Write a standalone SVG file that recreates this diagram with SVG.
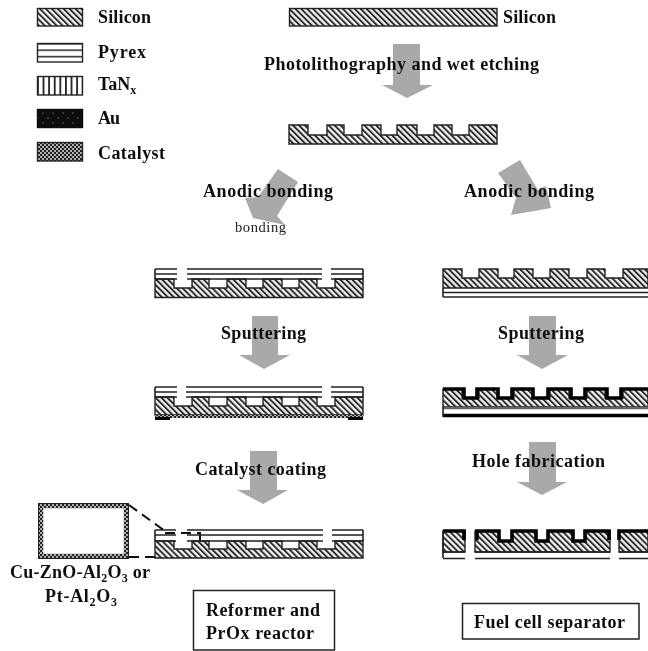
<svg xmlns="http://www.w3.org/2000/svg" width="648" height="651" viewBox="0 0 648 651">
<style>
.t{font-family:"Liberation Serif","Times New Roman",serif;font-weight:700;font-size:18px;fill:#111}
.r{font-family:"Liberation Serif","Times New Roman",serif;font-size:14.500px;fill:#222}
.s{font-size:12px}
.si{fill:url(#si);stroke:#222;stroke-width:1.4}
.ar{fill:#a9a9a9}
.ln{stroke:#222;stroke-width:1.6;fill:none}
.box{fill:#fff;stroke:#222;stroke-width:1.5}
.au{stroke:#000;stroke-width:3.6;fill:none}
.dash{stroke:#111;stroke-width:2;fill:none;stroke-dasharray:10 6}
</style>
<defs>
<pattern id="si" width="4.200" height="4.200" patternUnits="userSpaceOnUse" patternTransform="rotate(-45)">
<rect width="4.200" height="4.200" fill="#f2f2f2"/><rect width="1.900" height="4.200" fill="#2a2a2a"/>
</pattern>
<pattern id="py" width="10" height="6.400" patternUnits="userSpaceOnUse" y="43">
<rect width="10" height="6.400" fill="#fff"/><rect width="10" height="1.600" fill="#333"/>
</pattern>
<pattern id="ta" width="5.600" height="10" patternUnits="userSpaceOnUse" x="37">
<rect width="5.600" height="10" fill="#fff"/><rect width="1.800" height="10" fill="#222"/>
</pattern>
<pattern id="au" width="10" height="10" patternUnits="userSpaceOnUse">
<rect width="10" height="10" fill="#0a0a0a"/><circle cx="3" cy="3" r=".7" fill="#777"/><circle cx="8" cy="8" r=".7" fill="#777"/>
</pattern>
<pattern id="ca" width="4" height="4" patternUnits="userSpaceOnUse">
<rect width="4" height="4" fill="#222"/><circle cx="1" cy="1" r="1" fill="#ddd"/><circle cx="3" cy="3" r="1" fill="#ddd"/>
</pattern>
<filter id="b" x="-5%" y="-5%" width="110%" height="110%"><feGaussianBlur stdDeviation="0.45"/></filter>
</defs>
<g filter="url(#b)">
<g id="legend">
<g id="legend-silicon"><rect x="37.500" y="8.500" width="45" height="17.500" class="si"/><text class="t" x="98" y="23" textLength="53">Silicon</text></g>
<g id="legend-pyrex"><rect x="37.500" y="43.500" width="45" height="18.500" fill="url(#py)" stroke="#222" stroke-width="1.400"/><text class="t" x="98" y="58" textLength="48">Pyrex</text></g>
<g id="legend-tan"><rect x="37.500" y="76.500" width="45" height="18.500" fill="url(#ta)" stroke="#222" stroke-width="1.400"/><text class="t" x="98" y="90">TaN<tspan class="s" dy="4">x</tspan></text></g>
<g id="legend-au"><rect x="37.500" y="109.500" width="45" height="18" fill="url(#au)" stroke="#111" stroke-width="1.400"/><text class="t" x="98" y="124" textLength="22">Au</text></g>
<g id="legend-catalyst"><rect x="37.500" y="142.500" width="45" height="18.500" fill="url(#ca)" stroke="#222" stroke-width="1.400"/><text class="t" x="98" y="159" textLength="67">Catalyst</text></g>
</g>
<g id="connectors">
<path class="ar" d="M393 44H420V85H433L407 98L382 85H393Z"/>
<path class="ar" d="M278 169L298 182L277 216L285 225L253 218L245 198L258 197Z"/>
<path class="ar" d="M520 160L498 173L516 198L511 215L551 208L546 186L538 190Z"/>
<path class="ar" d="M252 316H278V355H290L264 369L239 355H252Z"/>
<path class="ar" d="M529 316H556V355H568L542 369L517 355H529Z"/>
<path class="ar" d="M250 451H277V490H288L263 504L237 490H250Z"/>
<path class="ar" d="M529 442H556V482H567L542 495L517 482H529Z"/>
<path class="dash" d="M129 505L165 531M165 533H200V558M129 557H155"/>
</g>
<g id="step-silicon"><rect x="289.500" y="8.500" width="207.500" height="17.500" class="si"/><text class="t" x="503" y="23" textLength="53">Silicon</text></g>
<g id="step-photolithography"><text class="t" x="264" y="70" textLength="275">Photolithography and wet etching</text></g>
<g id="step-etched"><path class="si" d="M289 125H308V135H327V125H344V135H362V125H381V135H397V125H417V135H434V125H452V135H469V125H497V144H289Z"/></g>
<g id="label-anodic-left"><text class="t" x="203" y="197" textLength="130">Anodic bonding</text><text class="r" x="235" y="232" textLength="51">bonding</text></g>
<g id="label-anodic-right"><text class="t" x="464" y="197" textLength="130">Anodic bonding</text></g>
<g id="left-bonded">
<path class="si" d="M155 279H174V288H192V279H209V288H227V279H246V288H263V279H282V288H299V279H317V288H335V279H363V297.500H155Z"/>
<path class="ln" d="M155 269H177M187 269H322M331 269H363M155 274H177M187 274H322M331 274H363M155 279H177M187 279H322M331 279H363M155 269V279M363 269V279"/>
</g>
<g id="left-sputtered">
<path class="si" d="M155 397H174V406H192V397H209V406H227V397H246V406H263V397H282V406H299V397H317V406H335V397H363V415H155Z"/>
<path class="ln" d="M155 387H177M186 387H322M331 387H363M155 392H177M186 392H322M331 392H363M155 397H177M186 397H322M331 397H363M155 387V397M363 387V397"/>
<rect x="155" y="415" width="208" height="3" fill="url(#ca)"/>
<path d="M155 418.500H170M348 418.500H363" stroke="#000" stroke-width="3"/>
</g>
<g id="left-coated">
<path class="si" d="M155 541H174V549H192V541H209V549H227V541H246V549H263V541H282V549H299V541H317V549H335V541H363V558H155Z"/>
<path class="ln" d="M155 530H176M187 530H323M332 530H363M155 535H176M187 535H323M332 535H363M155 541H176M187 541H323M332 541H363M155 530V541M363 530V541"/>
</g>
<g id="detail-catalyst"><rect x="41" y="506" width="85" height="50" fill="#fff" stroke="url(#ca)" stroke-width="4.500"/><rect x="38.500" y="503.500" width="90" height="55" fill="none" stroke="#222" stroke-width="1"/>
<text class="t" x="10" y="578" textLength="140">Cu-ZnO-Al<tspan class="s" dy="4">2</tspan><tspan dy="-4">O</tspan><tspan class="s" dy="4">3</tspan><tspan dy="-4"> or</tspan></text>
<text class="t" x="45" y="602" textLength="72">Pt-Al<tspan class="s" dy="4">2</tspan><tspan dy="-4">O</tspan><tspan class="s" dy="4">3</tspan></text></g>
<g id="right-bonded">
<path class="si" d="M443 269H462V278H479V269H498V278H514V269H533V278H550V269H569V278H587V269H605V278H623V269H648V288H443Z"/>
<path class="ln" d="M443 288V297M443 292.500H648M443 297H648"/>
</g>
<g id="right-sputtered">
<path class="si" d="M443 389H462V398H479V389H498V398H514V389H533V398H550V389H569V398H587V389H605V398H623V389H648V407H443Z"/>
<path class="au" d="M443 389H464V398H477V389H498V398H512V389H533V398H548V389H571V398H585V389H607V398H621V389H648"/>
<path d="M443 408H648" stroke="#666" stroke-width="2.500"/>
<path class="au" d="M443 415.500H648"/>
<path class="ln" d="M443 407V417"/>
</g>
<g id="right-holes">
<path class="si" d="M443 531H465V552H443Z"/>
<path class="si" d="M475 531H499V541H512V531H536V541H548V531H573V541H585V531H610V552H475Z"/>
<path class="si" d="M619 531H648V552H619Z"/>
<path class="au" d="M443 531H464V540M477 540V531H499V541H512V531H536V541H548V531H573V541H585V531H609V540M619 540V531H648"/>
<path class="ln" d="M443 552H465M475 552H610M619 552H648M443 558.500H465M475 558.500H610M619 558.500H648M443 531V558"/>
</g>
<g id="label-sputtering-left"><text class="t" x="221" y="339" textLength="85">Sputtering</text></g>
<g id="label-sputtering-right"><text class="t" x="498" y="339" textLength="86">Sputtering</text></g>
<g id="label-catalyst-coating"><text class="t" x="195" y="475" textLength="131">Catalyst coating</text></g>
<g id="label-hole-fabrication"><text class="t" x="472" y="467" textLength="133">Hole fabrication</text></g>
<g id="result-reformer"><rect x="193.500" y="590.500" width="141" height="59.500" class="box"/><text class="t" x="206" y="616" textLength="114">Reformer and</text><text class="t" x="206" y="639" textLength="108">PrOx reactor</text></g>
<g id="result-fuel-cell"><rect x="462.500" y="603.500" width="176.500" height="35.500" class="box"/><text class="t" x="474" y="628" textLength="151">Fuel cell separator</text></g>
</g>
</svg>
